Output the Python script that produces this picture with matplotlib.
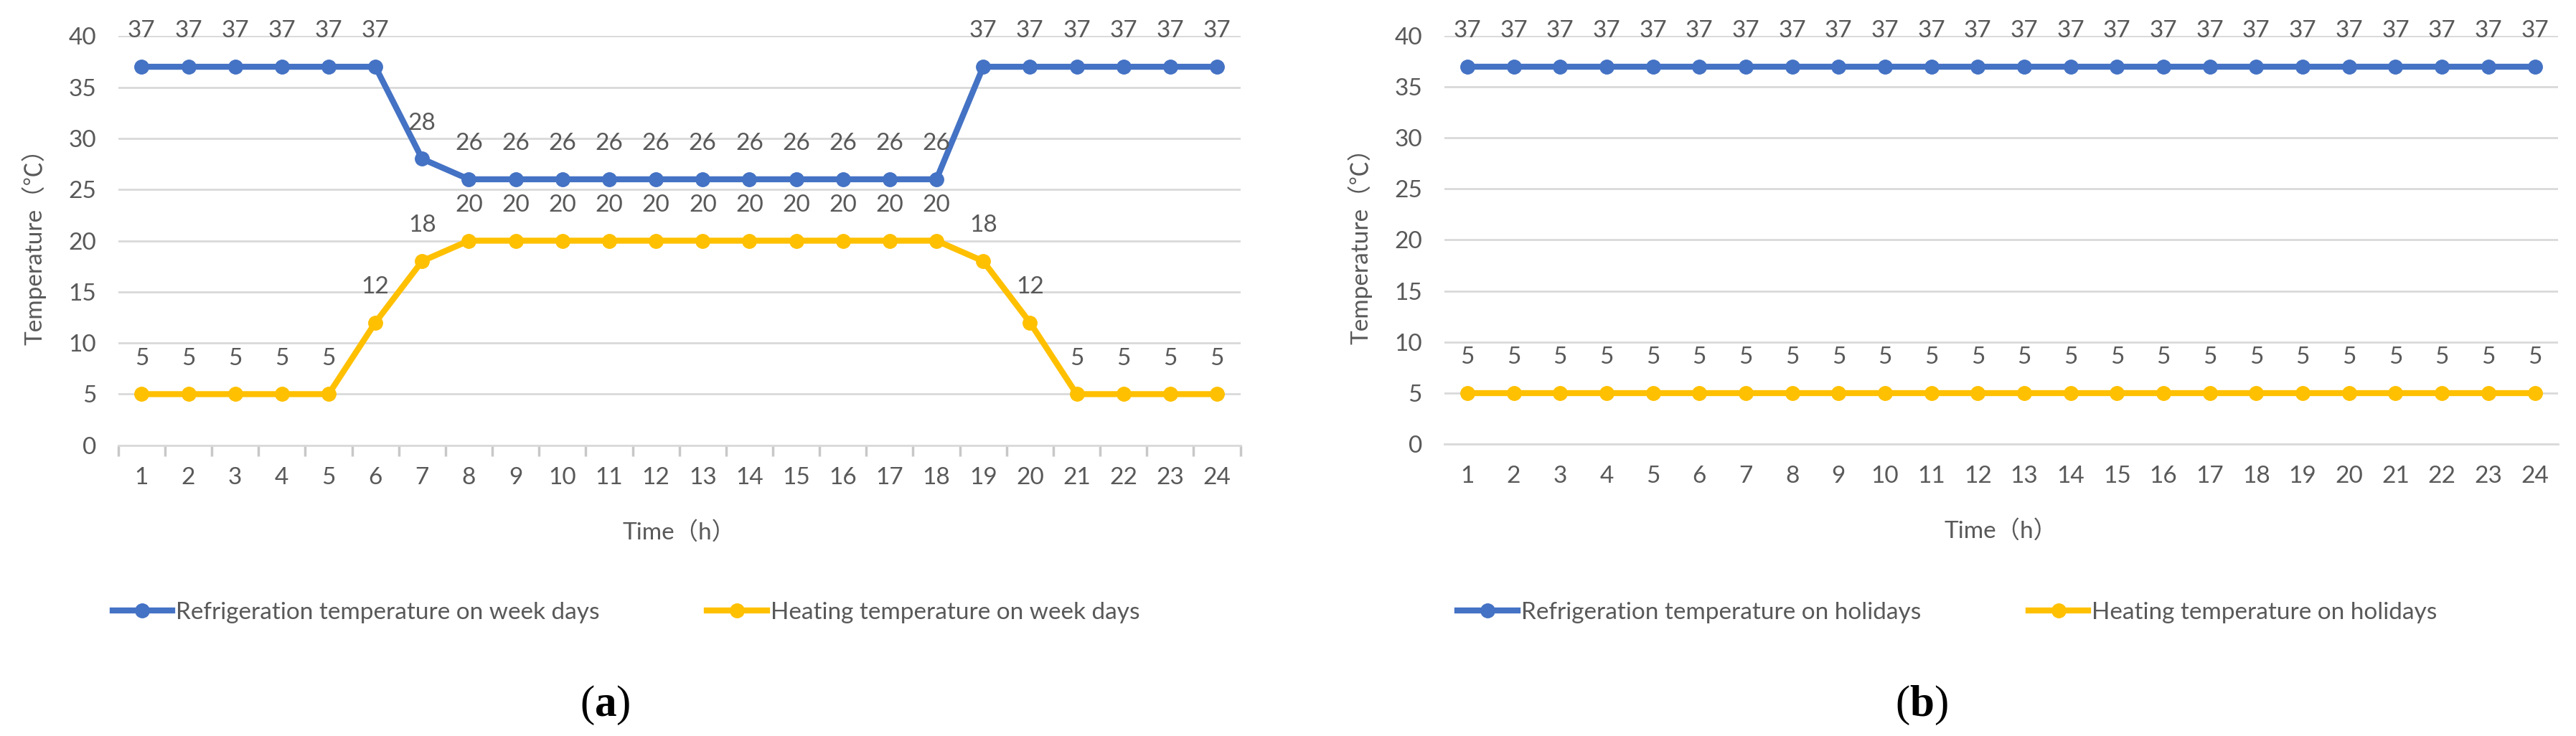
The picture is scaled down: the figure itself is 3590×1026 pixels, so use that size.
import matplotlib
matplotlib.use('Agg')
import matplotlib.pyplot as plt

# data
hours = list(range(1, 25))
cool_week = [37, 37, 37, 37, 37, 37, 28, 26, 26, 26, 26, 26, 26, 26, 26, 26, 26, 26, 37, 37, 37, 37, 37, 37]
heat_week = [5, 5, 5, 5, 5, 12, 18, 20, 20, 20, 20, 20, 20, 20, 20, 20, 20, 20, 18, 12, 5, 5, 5, 5]
cool_hol = [37] * 24
heat_hol = [5] * 24
yticks = [0, 5, 10, 15, 20, 25, 30, 35, 40]

blue = '#4472C4'
yellow = '#FFC000'
grey_txt = '#595959'
grid_c = '#D9D9D9'

fonts = ['Lato', 'Noto Sans CJK SC', 'DejaVu Sans']
plt.rcParams['font.family'] = fonts
plt.rcParams['mathtext.fontset'] = 'custom'
plt.rcParams['mathtext.rm'] = 'Liberation Serif'
plt.rcParams['mathtext.bf'] = 'Liberation Serif:bold'

fs = 24

fig = plt.figure(figsize=(35.9, 10.26), dpi=100)

def panel(rect, cool, heat, names, ticks_on):
 ax = fig.add_axes(rect)
 ax.plot(hours, cool, color=blue, lw=6, marker='o', ms=14, label=names[0], zorder=3)
 ax.plot(hours, heat, color=yellow, lw=6, marker='o', ms=14, label=names[1], zorder=3)
 # value labels above every point
 for x, v in zip(hours, cool):
  ax.annotate(str(v), (x, v), xytext=(0, 25), textcoords='offset points', ha='center', va='bottom', fontsize=fs, color=grey_txt)
 for x, v in zip(hours, heat):
  ax.annotate(str(v), (x, v), xytext=(0, 25), textcoords='offset points', ha='center', va='bottom', fontsize=fs, color=grey_txt)
 ax.set_xlim(0.5, 24.5)
 ax.set_ylim(0, 40)
 ax.set_yticks(yticks)
 ax.set_xticks(hours)
 ax.grid(axis='y', color=grid_c, lw=2)
 ax.set_axisbelow(True)
 for s in ['top', 'right', 'left']:
  ax.spines[s].set_visible(False)
 ax.spines['bottom'].set_color(grid_c)
 ax.spines['bottom'].set_linewidth(2)
 ax.tick_params(axis='y', length=0, labelsize=fs, labelcolor=grey_txt, pad=22)
 ax.tick_params(axis='x', length=0, labelsize=fs, labelcolor=grey_txt, pad=22)
 if ticks_on:
  ax.set_xticks([h + 0.5 for h in range(0, 25)], minor=True)
  ax.tick_params(axis='x', which='minor', length=11, width=2.5, color='#C8C8C8')
 ax.set_xlabel('Time（h）', fontsize=fs, color=grey_txt, labelpad=32)
 ax.set_ylabel('Temperature（℃）', fontsize=fs, color=grey_txt, labelpad=22)
 return ax

ax1 = panel([0.0459, 0.395, 0.4356, 0.556], cool_week, heat_week,
            ['Refrigeration temperature on week days', 'Heating temperature on week days'], True)
ax2 = panel([0.5606, 0.397, 0.4324, 0.554], cool_hol, heat_hol,
            ['Refrigeration temperature on holidays', 'Heating temperature on holidays'], False)

for ax, cx in [(ax1, 0.243), (ax2, 0.756)]:
 h, l = ax.get_legend_handles_labels()
 fig.legend(h, l, loc='center', bbox_to_anchor=(cx, 0.168), ncol=2, frameon=False,
            fontsize=fs, labelcolor=grey_txt, handlelength=2.5, handletextpad=0.15, columnspacing=4.5)

fig.text(0.235, 0.042, r'($\mathbf{a}$)', ha='center', va='center', fontsize=44, family='Liberation Serif')
fig.text(0.746, 0.042, r'($\mathbf{b}$)', ha='center', va='center', fontsize=44, family='Liberation Serif')

fig.savefig('out.png', dpi=100, facecolor='white')
